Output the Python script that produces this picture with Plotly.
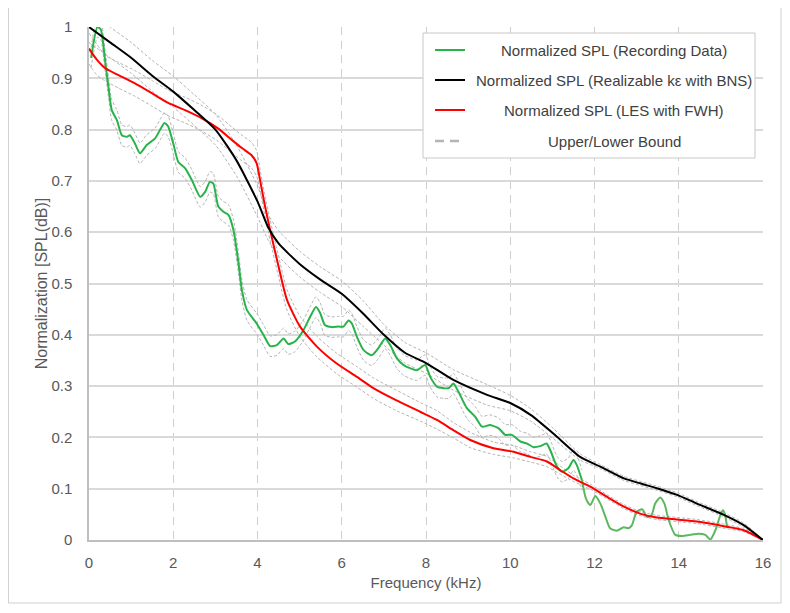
import plotly.graph_objects as go

# ---------------- data ----------------
GREEN_X = [0.05, 0.2, 0.28, 0.38, 0.46, 0.54, 0.66, 0.78, 0.9, 0.97, 1.09, 1.21, 1.37, 1.57, 1.69, 1.79,
           1.88, 2.0, 2.12, 2.28, 2.44, 2.64, 2.76, 2.87, 2.95, 3.07, 3.19, 3.31, 3.43, 3.55, 3.63, 3.75,
           3.98, 4.14, 4.3, 4.46, 4.62, 4.73, 4.89, 5.09, 5.25, 5.39, 5.49, 5.6, 5.76, 5.92, 6.04, 6.16,
           6.24, 6.36, 6.52, 6.71, 6.87, 7.03, 7.15, 7.31, 7.47, 7.62, 7.78, 7.98, 8.1, 8.26, 8.42, 8.54,
           8.65, 8.77, 8.97, 9.17, 9.33, 9.52, 9.72, 9.88, 10.04, 10.24, 10.4, 10.55, 10.71, 10.86, 10.95,
           11.11, 11.23, 11.38, 11.5, 11.58, 11.7]
GREEN_Y = [0.94, 1.0, 0.995, 0.936, 0.884, 0.838, 0.819, 0.789, 0.786, 0.789, 0.773, 0.754, 0.77, 0.783, 0.80, 0.813,
           0.806, 0.773, 0.737, 0.725, 0.702, 0.669, 0.679, 0.698, 0.695, 0.65, 0.64, 0.634, 0.604, 0.539, 0.487, 0.448,
           0.422, 0.40, 0.378, 0.38, 0.393, 0.382, 0.387, 0.409, 0.435, 0.454, 0.442, 0.419, 0.415, 0.416, 0.416, 0.428,
           0.422, 0.396, 0.37, 0.36, 0.374, 0.393, 0.38, 0.354, 0.341, 0.335, 0.331, 0.341, 0.318, 0.299, 0.296, 0.296,
           0.305, 0.289, 0.257, 0.24, 0.221, 0.224, 0.218, 0.205, 0.205, 0.192, 0.188, 0.181, 0.183, 0.188, 0.175,
           0.143, 0.133, 0.14, 0.156, 0.146, 0.117]
GREEN_MARGIN = 0.02

GREEN_TAIL_X = [11.7, 11.8, 11.9, 12.02, 12.14, 12.26, 12.37, 12.53, 12.69, 12.81, 12.89, 13.0, 13.13, 13.25,
                13.35, 13.44, 13.56, 13.66, 13.76, 13.92, 14.08, 14.27, 14.47, 14.63, 14.75, 14.87, 14.99,
                15.05, 15.1, 15.15]
GREEN_TAIL_Y = [0.117, 0.08, 0.068, 0.086, 0.071, 0.045, 0.023, 0.018, 0.025, 0.023, 0.029, 0.055, 0.06, 0.045,
                0.048, 0.071, 0.083, 0.071, 0.039, 0.01, 0.008, 0.01, 0.012, 0.01, 0.001, 0.019, 0.049,
                0.058, 0.049, 0.023]

BLACK_X = [0, 0.5, 1, 1.5, 2, 2.5, 3, 3.5, 4, 4.25, 4.5, 5, 5.5, 6, 6.5, 7, 7.5, 8, 8.65, 9.45, 10.0,
           10.5, 11.03, 11.66, 12.14, 12.7, 13.1, 13.48, 13.96, 14.43, 15.07, 15.54, 16]
BLACK_Y = [1.0, 0.97, 0.94, 0.905, 0.874, 0.838, 0.80, 0.74, 0.66, 0.61, 0.578, 0.538, 0.507, 0.48, 0.442,
           0.40, 0.365, 0.345, 0.312, 0.283, 0.267, 0.243, 0.207, 0.162, 0.143, 0.12, 0.11, 0.101, 0.088,
           0.071, 0.049, 0.029, 0.0]
BLACK_MARGIN = [0.03, 0.03, 0.03, 0.03, 0.03, 0.03, 0.03, 0.03, 0.03, 0.025, 0.025, 0.025, 0.025, 0.025, 0.025,
                0.02, 0.02, 0.02, 0.02, 0.02, 0.015, 0.012, 0.01, 0.006, 0.004, 0.004, 0.004, 0.004, 0.004,
                0.004, 0.004, 0.004, 0.0]

RED_X = [0, 0.08, 0.18, 0.38, 0.7, 1.09, 1.49, 1.88, 2.28, 2.68, 3.07, 3.39, 3.63, 3.86, 3.98, 4.06, 4.18,
         4.3, 4.5, 4.7, 5.01, 5.41, 5.88, 6.36, 6.75, 7.3, 7.86, 8.26, 8.65, 9.05, 9.6, 10.08, 10.48, 10.87,
         11.19, 11.5, 11.9, 12.3, 12.7, 13.1, 13.48, 13.96, 14.43, 15.07, 15.54, 16]
RED_Y = [0.958, 0.948, 0.937, 0.92, 0.906, 0.89, 0.871, 0.852, 0.838, 0.822, 0.802, 0.78, 0.764, 0.75, 0.734,
         0.702, 0.65, 0.604, 0.533, 0.468, 0.416, 0.377, 0.344, 0.318, 0.296, 0.272, 0.25, 0.234, 0.214, 0.195,
         0.179, 0.172, 0.162, 0.153, 0.136, 0.12, 0.104, 0.084, 0.065, 0.051, 0.044, 0.04, 0.036, 0.027, 0.019, 0.0]
RED_MARGIN = [0.03, 0.03, 0.03, 0.025, 0.025, 0.025, 0.025, 0.025, 0.025, 0.025, 0.025, 0.025, 0.025, 0.025, 0.025,
              0.02, 0.02, 0.02, 0.02, 0.02, 0.02, 0.02, 0.02, 0.02, 0.02, 0.02, 0.018, 0.018, 0.015, 0.015,
              0.012, 0.012, 0.01, 0.01, 0.008, 0.006, 0.005, 0.004, 0.004, 0.004, 0.004, 0.004, 0.004, 0.004,
              0.003, 0.0]

LEGEND_NAMES = ["Normalized SPL (Recording Data)", "Normalized SPL (Realizable kε with BNS)",
                "Normalized SPL (LES with FWH)", "Upper/Lower Bound"]
X_TICKS = [0, 2, 4, 6, 8, 10, 12, 14, 16]
Y_TICKS = [0, 0.1, 0.2, 0.3, 0.4, 0.5, 0.6, 0.7, 0.8, 0.9, 1]
Y_TICK_TEXT = ["0", "0.1", "0.2", "0.3", "0.4", "0.5", "0.6", "0.7", "0.8", "0.9", "1"]

GREEN = "#27b34a"
GREEN_TAIL = "#5cb860"
BLACK = "#000000"
RED = "#ff0000"
BOUND = "#b4b4b4"
FONT = "Liberation Sans"

fig = go.Figure()

def add_bounds(xs, ys, margin):
    if isinstance(margin, (int, float)):
        margin = [margin] * len(ys)
    up = [y + m for y, m in zip(ys, margin)]
    lo = [y - m for y, m in zip(ys, margin)]
    for arr in (up, lo):
        fig.add_trace(go.Scatter(x=xs, y=arr, mode="lines", showlegend=False, hoverinfo="skip",
                                 line=dict(color=BOUND, width=1, dash="3px,2px", shape="spline", smoothing=0.6)))

add_bounds(BLACK_X, BLACK_Y, BLACK_MARGIN)
add_bounds(RED_X, RED_Y, RED_MARGIN)
add_bounds(GREEN_X, GREEN_Y, GREEN_MARGIN)

fig.add_trace(go.Scatter(x=GREEN_X, y=GREEN_Y, mode="lines", showlegend=False,
                         line=dict(color=GREEN, width=2, shape="spline", smoothing=0.6)))
fig.add_trace(go.Scatter(x=GREEN_TAIL_X, y=GREEN_TAIL_Y, mode="lines", showlegend=False,
                         line=dict(color=GREEN_TAIL, width=2, shape="spline", smoothing=0.6)))
fig.add_trace(go.Scatter(x=RED_X, y=RED_Y, mode="lines", showlegend=False,
                         line=dict(color=RED, width=2, shape="spline", smoothing=0.6)))
fig.add_trace(go.Scatter(x=BLACK_X, y=BLACK_Y, mode="lines", showlegend=False,
                         line=dict(color=BLACK, width=2, shape="spline", smoothing=0.6)))

# The page body adds an 8px offset, so the figure is drawn 8px smaller and positioned accordingly.
OFF = 8
W, H = 790 - OFF, 613 - OFF
L, R, T, B = 89 - OFF, 763 - OFF, 27 - OFF, 540 - OFF  # plot area in figure pixels

def px(xp):
    return (xp - OFF - L) / (R - L)
def py(yp):
    return (B - (yp - OFF)) / (B - T)

shapes = []
shapes.append(dict(type="rect", xref="paper", yref="paper", x0=px(423), x1=px(755), y0=py(158), y1=py(33),
                   line=dict(color="#c8c8c8", width=1), fillcolor="white", layer="above"))
legend_colors = [GREEN, BLACK, RED, BOUND]
rows = [50, 80, 110, 141]
annotations = []
for name, col, r in zip(LEGEND_NAMES, legend_colors, rows):
    shapes.append(dict(type="line", xref="paper", yref="paper", x0=px(435), x1=px(465), y0=py(r), y1=py(r),
                       line=dict(color=col, width=2 if col != BOUND else 2.5,
                                 dash="solid" if col != BOUND else "9px,6px"), layer="above"))
    annotations.append(dict(xref="paper", yref="paper", x=px(614), y=py(r), text=name, showarrow=False,
                            xanchor="center", yanchor="middle",
                            font=dict(family=FONT, size=15, color="#404040")))

# outer frame
shapes.append(dict(type="rect", xref="paper", yref="paper", x0=px(8.5), x1=px(781), y0=py(603), y1=py(-5),
                   line=dict(color="#d0d0d0", width=1), layer="below"))

fig.update_layout(
    width=W, height=H,
    margin=dict(l=L, r=W - R, t=T, b=H - B, autoexpand=False),
    paper_bgcolor="white", plot_bgcolor="white",
    font=dict(family=FONT, size=15, color="#595959"),
    shapes=shapes, annotations=annotations,
    xaxis=dict(range=[0, 16], tickvals=X_TICKS, showgrid=True, gridcolor="#cfcfcf", griddash="8px,6px",
               gridwidth=1.2, showline=True, linecolor="#bfbfbf", linewidth=1.5, zeroline=False,
               ticks="", ticklabelstandoff=8,
               title=dict(text="Frequency (kHz)", standoff=8, font=dict(family=FONT, size=15, color="#595959"))),
    yaxis=dict(range=[0, 1], tickvals=Y_TICKS, ticktext=Y_TICK_TEXT, showgrid=True, gridcolor="#d9d9d9",
               gridwidth=1.5, showline=True, linecolor="#bfbfbf", linewidth=1.5, zeroline=False,
               ticks="", ticklabelstandoff=12,
               title=dict(text="Normalization [SPL(dB)]", standoff=0, font=dict(family=FONT, size=16, color="#595959"))),
)

fig.write_html("out.html")
